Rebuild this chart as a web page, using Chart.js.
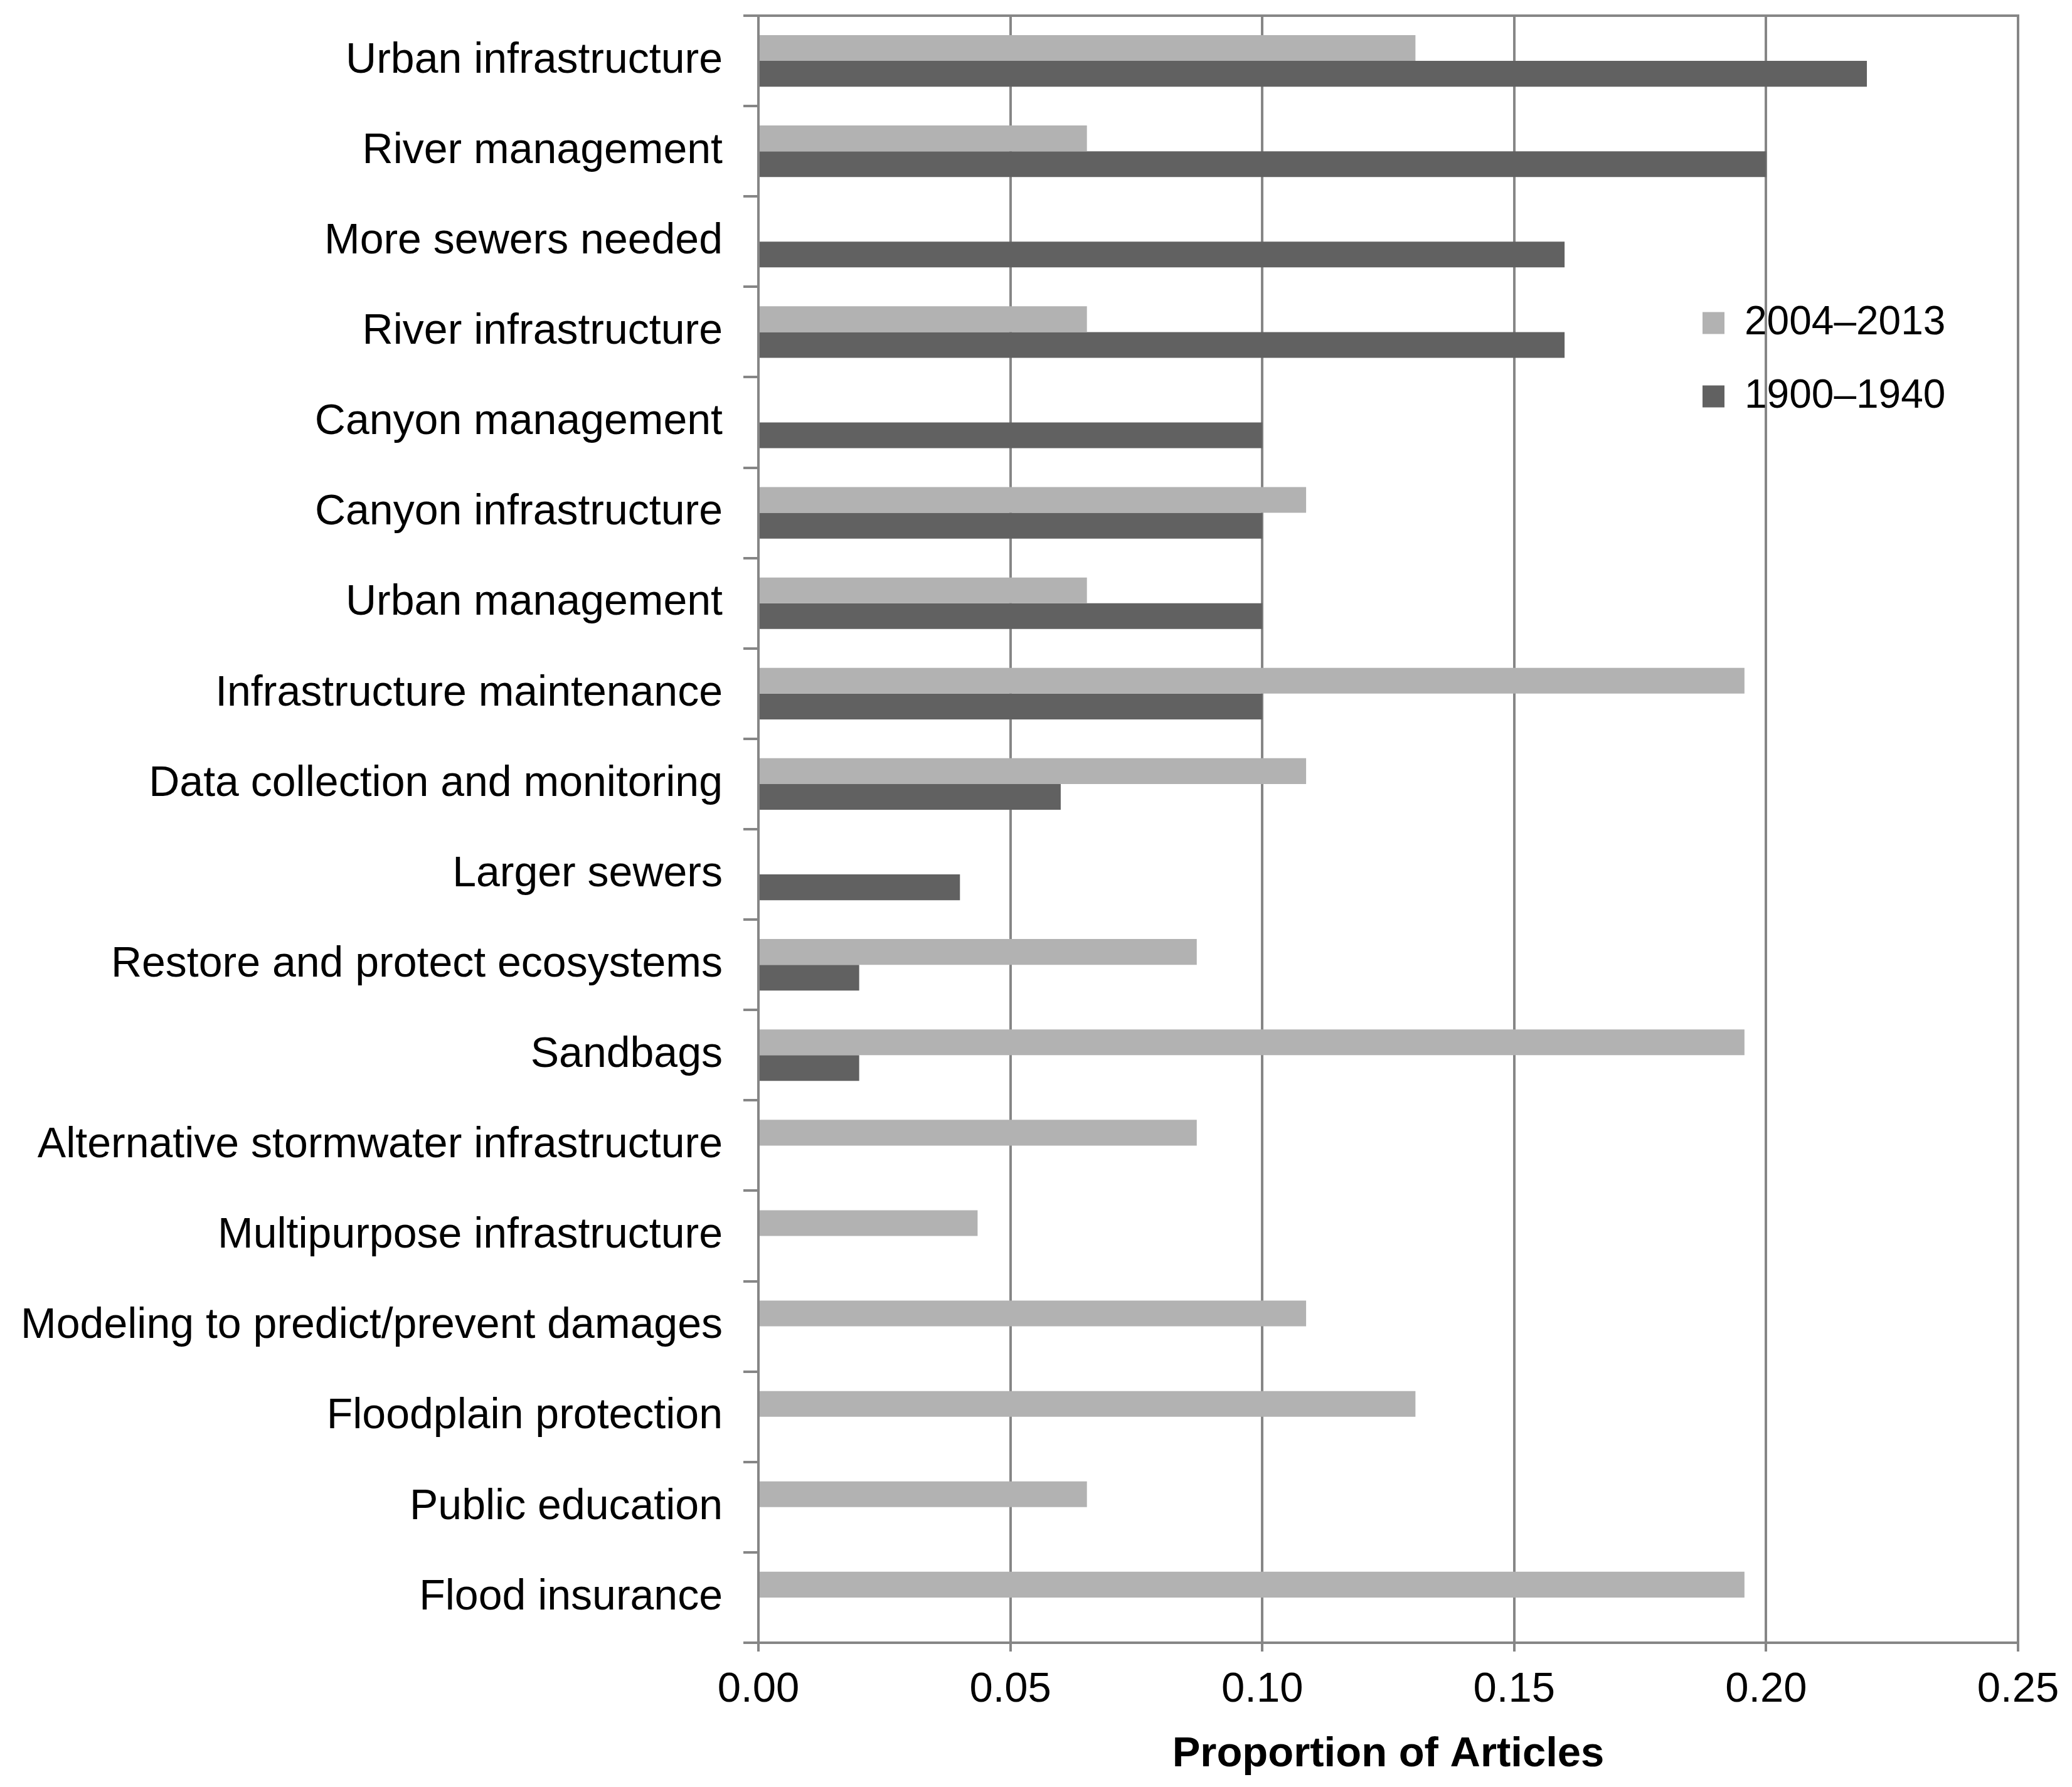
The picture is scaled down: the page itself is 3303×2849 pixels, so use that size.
<!DOCTYPE html>
<html>
<head>
<meta charset="utf-8">
<script src="https://cdn.jsdelivr.net/npm/chart.js@4.4.1/dist/chart.umd.min.js"></script>
<style>
  html, body { margin: 0; padding: 0; background: #ffffff; }
  #wrap { width: 3303px; height: 2849px; position: relative; background: #ffffff; }
</style>
</head>
<body>
<div id="wrap"><canvas id="c" width="3303" height="2849"></canvas></div>
<script>
const categories = [
  'Urban infrastructure',
  'River management',
  'More sewers needed',
  'River infrastructure',
  'Canyon management',
  'Canyon infrastructure',
  'Urban management',
  'Infrastructure maintenance',
  'Data collection and monitoring',
  'Larger sewers',
  'Restore and protect ecosystems',
  'Sandbags',
  'Alternative stormwater infrastructure',
  'Multipurpose infrastructure',
  'Modeling to predict/prevent damages',
  'Floodplain protection',
  'Public education',
  'Flood insurance'
];
const seriesNames = ['2004\u20132013', '1900\u20131940'];
const values2004 = [0.1304, 0.0652, 0, 0.0652, 0, 0.1087, 0.0652, 0.1957, 0.1087, 0, 0.0870, 0.1957, 0.0870, 0.0435, 0.1087, 0.1304, 0.0652, 0.1957];
const values1900 = [0.22, 0.20, 0.16, 0.16, 0.10, 0.10, 0.10, 0.10, 0.06, 0.04, 0.02, 0.02, 0, 0, 0, 0, 0, 0];
const xTickLabels = ['0.00', '0.05', '0.10', '0.15', '0.20', '0.25'];
const axisTitle = 'Proportion of Articles';

const FONT = "'Liberation Sans', Arial, sans-serif";
const LINE = '#868686';

const frame = {
  id: 'frame',
  beforeDraw(chart) {
    const a = chart.chartArea;
    const lg = chart.legend;
    if (lg) {
      const w = lg.width, h = lg.height;
      lg.left = a.right - 556;
      lg.top = a.top + 405;
      lg.right = lg.left + w;
      lg.bottom = lg.top + h;
    }
  },
  afterDatasetsDraw(chart) {
    const a = chart.chartArea;
    const ctx = chart.ctx;
    ctx.save();
    ctx.strokeStyle = LINE;
    ctx.lineWidth = 4;
    ctx.beginPath();
    ctx.moveTo(a.left, a.top);
    ctx.lineTo(a.right + 2, a.top);
    ctx.stroke();
    ctx.restore();
  }
};

new Chart(document.getElementById('c'), {
  type: 'bar',
  data: {
    labels: categories,
    datasets: [
      { label: seriesNames[0], data: values2004, backgroundColor: '#b2b2b2', borderWidth: 0 },
      { label: seriesNames[1], data: values1900, backgroundColor: '#616161', borderWidth: 0 }
    ]
  },
  options: {
    indexAxis: 'y',
    responsive: false,
    animation: false,
    devicePixelRatio: 1,
    categoryPercentage: 0.57,
    barPercentage: 1.0,
    layout: { padding: { top: 25, right: 86, bottom: 0, left: 0 } },
    plugins: {
      tooltip: { enabled: false },
      legend: {
        position: 'chartArea',
        align: 'start',
        labels: {
          boxWidth: 35,
          boxHeight: 35,
          padding: 53,
          color: '#000000',
          font: { family: FONT, size: 64 }
        }
      }
    },
    scales: {
      x: {
        type: 'linear',
        min: 0,
        max: 0.25,
        ticks: {
          stepSize: 0.05,
          padding: 21,
          color: '#000000',
          font: { family: FONT, size: 67 },
          callback: (v, i) => xTickLabels[i]
        },
        grid: { color: LINE, lineWidth: 4, tickLength: 14, drawTicks: true, tickColor: LINE },
        border: { color: LINE, width: 4 },
        title: {
          display: true,
          text: axisTitle,
          color: '#000000',
          font: { family: FONT, size: 67, weight: 'bold' },
          padding: { top: 0, bottom: 11 }
        },
        afterFit(scale) { scale.height = 230; scale.paddingLeft = 0; scale.paddingRight = 0; }
      },
      y: {
        ticks: {
          padding: 33,
          color: '#000000',
          autoSkip: false,
          font: { family: FONT, size: 68 }
        },
        grid: { drawOnChartArea: false, drawTicks: true, tickLength: 24, color: LINE, tickColor: LINE, lineWidth: 4 },
        border: { color: LINE, width: 4 },
        afterFit(scale) { scale.width = 1209; scale.paddingTop = 0; scale.paddingBottom = 0; }
      }
    }
  },
  plugins: [frame]
});
</script>
</body>
</html>
